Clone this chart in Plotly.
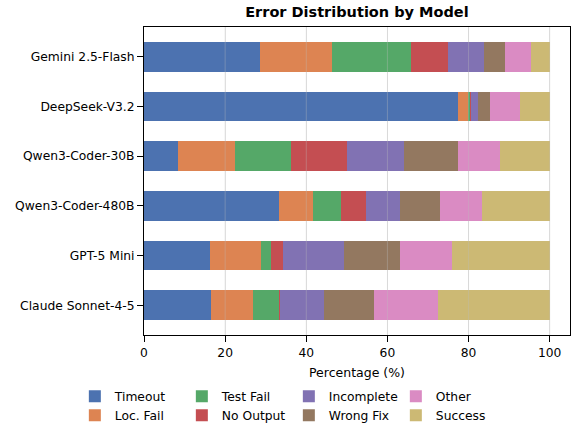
import plotly.graph_objects as go

models = ["Gemini 2.5-Flash", "DeepSeek-V3.2", "Qwen3-Coder-30B",
          "Qwen3-Coder-480B", "GPT-5 Mini", "Claude Sonnet-4-5"]
categories = ["Timeout", "Loc. Fail", "Test Fail", "No Output",
              "Incomplete", "Wrong Fix", "Other", "Success"]
timeout = [28.6, 77.5, 8.4, 33.3, 16.3, 16.6]
loc_fail = [17.8, 2.6, 14.1, 8.4, 12.6, 10.3]
test_fail = [19.5, 0.3, 13.8, 6.9, 2.5, 6.4]
no_output = [9.0, 0.2, 13.8, 6.2, 2.9, 0.2]
incomplete = [8.8, 1.6, 14.1, 8.3, 15.1, 10.9]
wrong_fix = [5.3, 3.2, 13.3, 9.9, 13.8, 12.3]
other = [6.4, 7.2, 10.3, 10.4, 12.6, 15.8]
success = [4.6, 7.4, 12.2, 16.6, 24.2, 27.5]
x_ticks = [0, 20, 40, 60, 80, 100]

series = [timeout, loc_fail, test_fail, no_output, incomplete, wrong_fix, other, success]
colors = ["#4C72B0", "#DD8452", "#55A868", "#C44E52",
          "#8172B3", "#937860", "#DA8BC3", "#CCB974"]
# legend is filled column-wise in the reference (2 rows x 4 columns)
ranks = [1, 5, 2, 6, 3, 7, 4, 8]

FONT = "DejaVu Sans"
fig = go.Figure()
for name, vals, col, rk in zip(categories, series, colors, ranks):
    fig.add_trace(go.Bar(
        y=models, x=vals, name=name, orientation="h",
        marker=dict(color=col, line=dict(width=0)),
        legendrank=rk,
    ))

for t in x_ticks[1:]:
    fig.add_shape(type="line", xref="x", yref="paper", x0=t, x1=t, y0=0, y1=1,
                  line=dict(color="rgba(190,190,190,0.35)", width=1), layer="above")

fig.update_layout(
    width=572, height=423,
    margin=dict(l=144, r=2, t=27, b=88, autoexpand=False),
    paper_bgcolor="white", plot_bgcolor="white",
    barmode="stack", bargap=0.4,
    font=dict(family=FONT, size=12, color="black"),
    title=dict(text="<b>Error Distribution by Model</b>", x=0.624, xanchor="center",
               y=0.972, yanchor="middle", font=dict(family=FONT, size=14.5, color="black")),
    xaxis=dict(range=[0, 105], tickvals=x_ticks, ticks="outside", ticklen=6,
               tickcolor="black", showline=True, linecolor="black", linewidth=1,
               mirror=True, showgrid=True, gridcolor="#e8e8e8", gridwidth=1,
               zeroline=False, title=dict(text="Percentage (%)", standoff=9,
                                          font=dict(size=12.5)),
               tickfont=dict(size=12.3)),
    yaxis=dict(type="category", categoryorder="array", categoryarray=models,
               range=[5.6, -0.6], ticks="outside", ticklen=6, tickcolor="black",
               showline=True, linecolor="black", linewidth=1, mirror=True,
               showgrid=False, zeroline=False, tickfont=dict(size=12.3)),
    legend=dict(orientation="h", x=0.34, xanchor="center",
                y=-0.152, yanchor="top", entrywidth=62, traceorder="normal",
                font=dict(size=12.3), itemwidth=30, tracegroupgap=0),
    showlegend=True,
)

fig.write_html("out.html", config={"displayModeBar": False},
               post_script="document.body.style.margin='0';")
